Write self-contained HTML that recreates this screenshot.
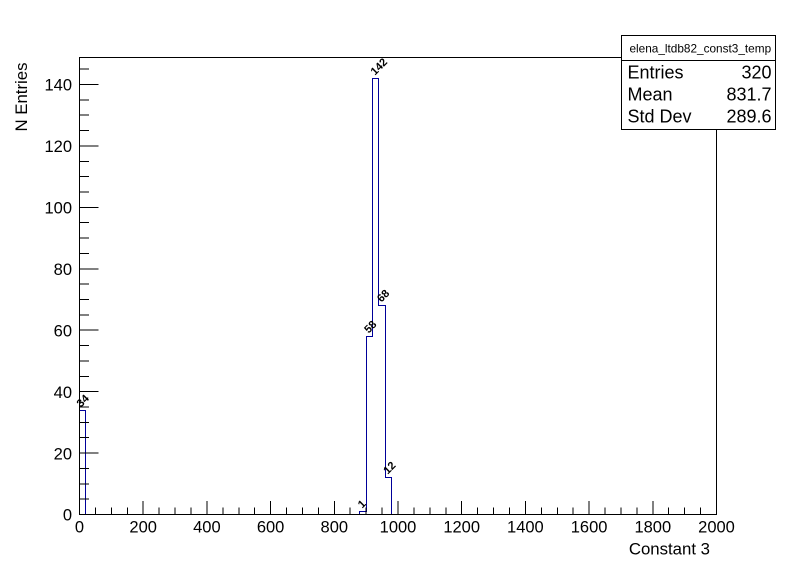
<!DOCTYPE html>
<html><head><meta charset="utf-8"><style>
html,body{margin:0;padding:0;background:#fff;}
svg{display:block;}
text{font-family:"Liberation Sans",Arial,sans-serif;fill:#000;}
</style></head><body>
<svg width="796" height="572" viewBox="0 0 796 572" xmlns="http://www.w3.org/2000/svg">
<rect x="0" y="0" width="796" height="572" fill="#fff"/>
<!-- histogram -->
<path d="M79.5,514.5 V410.5 H85.5 V514.5 H359.5 V511.5 H366.5 V336.5 H372.5 V78.5 H378.5 V305.5 H385.5 V477.5 H391.5 V514.5 H716.5" fill="none" stroke="#000099" stroke-width="1" shape-rendering="crispEdges"/>
<!-- bin labels -->
<g font-size="11" font-weight="bold">
<text transform="translate(81,407.7) rotate(-45)">34</text>
<text transform="translate(362.3,508.7) rotate(-45)">1</text>
<text transform="translate(368.6,333.7) rotate(-45)">58</text>
<text transform="translate(375,75.7) rotate(-45)">142</text>
<text transform="translate(381.4,302.7) rotate(-45)">68</text>
<text transform="translate(387.7,474.7) rotate(-45)">12</text>
</g>
<!-- frame -->
<rect x="79.5" y="57.5" width="637" height="457" fill="none" stroke="#000" stroke-width="1" shape-rendering="crispEdges"/>
<!-- x ticks -->
<g stroke="#000" stroke-width="1" shape-rendering="crispEdges">
<path d="M79.5,514.5V500.8 M143.2,514.5V500.8 M206.9,514.5V500.8 M270.6,514.5V500.8 M334.3,514.5V500.8 M398,514.5V500.8 M461.7,514.5V500.8 M525.4,514.5V500.8 M589.1,514.5V500.8 M652.8,514.5V500.8 M716.5,514.5V500.8"/>
<path d="M95.4,514.5V507.6 M111.35,514.5V507.6 M127.3,514.5V507.6 M159.1,514.5V507.6 M175.05,514.5V507.6 M191,514.5V507.6 M222.8,514.5V507.6 M238.75,514.5V507.6 M254.7,514.5V507.6 M286.5,514.5V507.6 M302.5,514.5V507.6 M318.4,514.5V507.6 M350.2,514.5V507.6 M366.2,514.5V507.6 M382.1,514.5V507.6 M413.9,514.5V507.6 M429.9,514.5V507.6 M445.8,514.5V507.6 M477.6,514.5V507.6 M493.6,514.5V507.6 M509.5,514.5V507.6 M541.3,514.5V507.6 M557.3,514.5V507.6 M573.2,514.5V507.6 M605,514.5V507.6 M621,514.5V507.6 M636.9,514.5V507.6 M668.7,514.5V507.6 M684.7,514.5V507.6 M700.6,514.5V507.6"/>
<!-- y ticks -->
<path d="M79.5,514.5H98.6 M79.5,453.1H98.6 M79.5,391.6H98.6 M79.5,330.2H98.6 M79.5,268.8H98.6 M79.5,207.4H98.6 M79.5,146H98.6 M79.5,84.5H98.6"/>
<path d="M79.5,499.1H89 M79.5,483.8H89 M79.5,468.4H89 M79.5,437.7H89 M79.5,422.4H89 M79.5,407H89 M79.5,376.3H89 M79.5,360.9H89 M79.5,345.6H89 M79.5,314.9H89 M79.5,299.5H89 M79.5,284.1H89 M79.5,253.4H89 M79.5,238.1H89 M79.5,222.7H89 M79.5,192H89 M79.5,176.6H89 M79.5,161.3H89 M79.5,130.6H89 M79.5,115.2H89 M79.5,99.9H89 M79.5,69.1H89"/>
</g>
<!-- x labels -->
<g font-size="16.5" text-anchor="middle">
<text x="79.5" y="532.3">0</text>
<text x="143.2" y="532.3">200</text>
<text x="206.9" y="532.3">400</text>
<text x="270.6" y="532.3">600</text>
<text x="334.3" y="532.3">800</text>
<text x="398" y="532.3">1000</text>
<text x="461.7" y="532.3">1200</text>
<text x="525.4" y="532.3">1400</text>
<text x="589.1" y="532.3">1600</text>
<text x="652.8" y="532.3">1800</text>
<text x="716.5" y="532.3">2000</text>
</g>
<!-- y labels -->
<g font-size="16.5" text-anchor="end">
<text x="72" y="520.7">0</text>
<text x="72" y="459.3">20</text>
<text x="72" y="397.8">40</text>
<text x="72" y="336.4">60</text>
<text x="72" y="275">80</text>
<text x="72" y="213.6">100</text>
<text x="72" y="152.2">120</text>
<text x="72" y="90.7">140</text>
</g>
<!-- axis titles -->
<text font-size="16.8" text-anchor="end" x="710" y="554.3">Constant 3</text>
<text font-size="16.8" text-anchor="end" transform="translate(27,62.5) rotate(-90)">N Entries</text>
<!-- stats box -->
<rect x="621.5" y="35.5" width="154" height="94" fill="#fff" stroke="#000" stroke-width="1" shape-rendering="crispEdges"/>
<line x1="621.5" y1="60.5" x2="775.5" y2="60.5" stroke="#000" stroke-width="1" shape-rendering="crispEdges"/>
<text font-size="11.8" text-anchor="middle" x="700.3" y="52.5">elena_ltdb82_const3_temp</text>
<g font-size="18">
<text x="627.5" y="78.5">Entries</text>
<text x="627.5" y="100.5">Mean</text>
<text x="627.5" y="122.5">Std Dev</text>
</g>
<g font-size="18" text-anchor="end">
<text x="771.5" y="78.5">320</text>
<text x="771.5" y="100.5">831.7</text>
<text x="771.5" y="122.5">289.6</text>
</g>
</svg>
</body></html>
